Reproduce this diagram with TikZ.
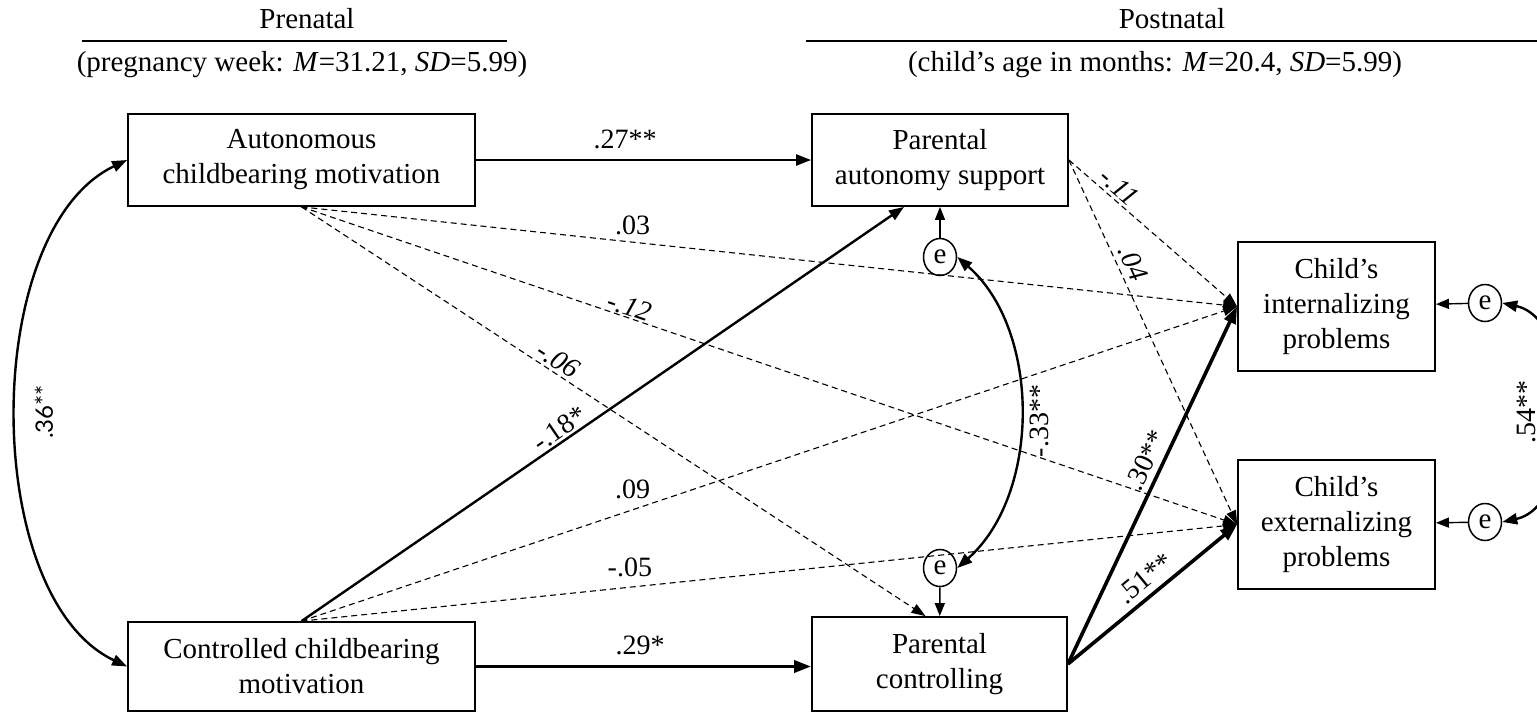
\documentclass[tikz,border=0pt]{standalone}
\usepackage{fontspec}
\setmainfont{Liberation Serif}
\newfontfamily\gillfont{Lato}
\usetikzlibrary{arrows.meta,shapes.geometric,calc}

\begin{document}
\begin{tikzpicture}[x=1pt,y=-1pt,
	box/.style={draw,line width=1.8pt,align=center,inner sep=0pt,font=\fontsize{29pt}{35pt}\selectfont},
	errnode/.style={draw,ellipse,line width=1.5pt,minimum width=33pt,minimum height=37pt,inner sep=0pt,font=\fontsize{29pt}{35pt}\selectfont},
	coef/.style={inner sep=1pt,font=\fontsize{28pt}{30pt}\selectfont},
	head/.style={inner sep=0pt,font=\fontsize{29pt}{35pt}\selectfont},
	sigarrow/.style={-{Triangle[length=15pt,width=11pt]},line width=2.4pt},
	bigarrow/.style={-{Triangle[length=17pt,width=12pt]},line width=3.6pt},
	nsarrow/.style={-{Triangle[length=14pt,width=10pt]},line width=1.1pt,dash pattern=on 6pt off 4pt},
	errarrow/.style={-{Triangle[length=13pt,width=10pt]},line width=1.4pt},
	covarrow/.style={{Triangle[length=15pt,width=11pt]}-{Triangle[length=15pt,width=11pt]},line width=2.4pt}]
	\useasboundingbox (0,0) rectangle (1537,713);
	\node[head] (pre) at (307,19) {Prenatal};
	\node[head] (prewk) at (302,65) {(pregnancy week: \textit{M}=31.21, \textit{SD}=5.99)};
	\draw[line width=1.2pt] (82,41) -- (507,41);
	\node[head] (post) at (1172,19) {Postnatal};
	\node[head] (postmo) at (1155,65) {(child’s age in months: \textit{M}=20.4, \textit{SD}=5.99)};
	\draw[line width=1.2pt] (806,41) -- (1537,41);

	\node[box,minimum width=347pt,minimum height=92pt] (auto) at (301.5,160) {Autonomous\\childbearing motivation};
	\node[box,minimum width=347pt,minimum height=89pt] (ctrl) at (301.5,666.5) {Controlled childbearing\\motivation};
	\node[box,minimum width=256pt,minimum height=92pt] (pas) at (940,160) {Parental\\autonomy support};
	\node[box,minimum width=255pt,minimum height=94pt] (pc) at (939.5,664) {Parental\\controlling};
	\node[box,minimum width=197pt,minimum height=129pt] (cip) at (1336.5,306.5) {Child’s\\internalizing\\problems};
	\node[box,minimum width=197pt,minimum height=129pt] (cep) at (1336.5,524.5) {Child’s\\externalizing\\problems};
	\node[errnode] (e1) at (940,257) {e};
	\node[errnode] (e2) at (940,568) {e};
	\node[errnode] (e3) at (1485,303) {e};
	\node[errnode] (e4) at (1485,522) {e};
	\coordinate (pasin) at ($(pas.south)+(-36,0)$);
	\coordinate (pcin) at ($(pc.north)+(-14,0)$);

	\draw[sigarrow] (auto.east) -- node[coef,above=9pt,pos=.445] {.27**} (auto.east -| pas.west);
	\draw[bigarrow] (ctrl.east) -- node[coef,above=9pt,pos=.49] {.29*} (ctrl.east -| pc.west);
	\draw[sigarrow] (ctrl.north) -- node[coef,sloped,above=1pt,pos=.44] {-.18*} (pasin);
	\draw[nsarrow] (auto.south) -- node[coef,above=6pt,pos=.354] {.03} (cip.west);
	\draw[nsarrow] (auto.south) -- node[coef,sloped,above=0pt,pos=.347] {\textit{-.12}} (cep.west);
	\draw[nsarrow] (auto.south) -- node[coef,sloped,above=2pt,pos=.40] {\textit{-.06}} (pcin);
	\draw[nsarrow] (ctrl.north) -- node[coef,above=9pt,pos=.354] {.09} (cip.west);
	\draw[nsarrow] (ctrl.north) -- node[coef,above=9pt,pos=.351] {-.05} (cep.west);
	\draw[nsarrow] (pas.east) -- node[coef,sloped,above=2pt,pos=.25] {\textit{-.11}} (cip.west);
	\draw[nsarrow] (pas.east) -- node[coef,sloped,above=4pt,pos=.30] {\textit{.04}} (cep.west);
	\draw[bigarrow] (pc.east) -- node[coef,sloped,above=4pt,pos=.55] {.30**} (cip.west);
	\draw[bigarrow] (pc.east) -- node[coef,sloped,above=5pt,pos=.52] {.51**} (cep.west);
	\draw[errarrow] (e1) -- (pas);
	\draw[errarrow] (e2) -- (pc);
	\draw[errarrow] (e3) -- (cip);
	\draw[errarrow] (e4) -- (cep);

	\draw[covarrow] (auto.west) .. controls (-20,230) and (-20,597) .. (ctrl.west);
	\node[rotate=90,font={\gillfont\fontsize{24pt}{26pt}\selectfont}] (r36) at (44,412) {.36**};
	\draw[covarrow] (e1.east) .. controls (1041,330) and (1041,494) .. (e2.east);
	\node[coef,rotate=90] (r33) at (1039,421) {-.33**};
	\draw[covarrow] (e3.east) .. controls (1580,320) and (1580,505) .. (e4.east);
	\node[coef,rotate=90] (r54) at (1526,412) {.54**};
\end{tikzpicture}
\end{document}
